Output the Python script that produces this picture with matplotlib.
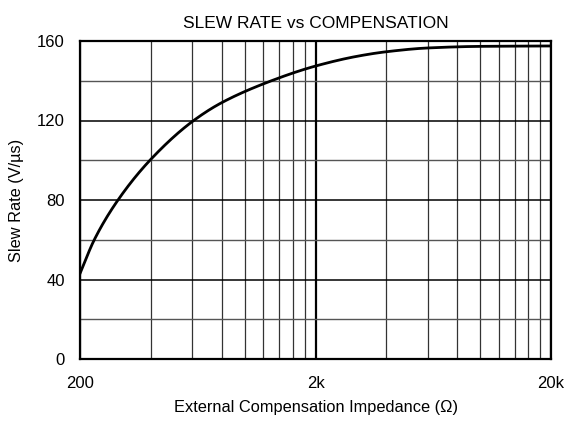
import matplotlib
matplotlib.use("Agg")
import matplotlib.pyplot as plt
from matplotlib.ticker import FixedLocator, NullFormatter
import numpy as np

plt.rcParams['font.family'] = ['Liberation Sans', 'DejaVu Sans']

# values
impedance = [200, 230, 290, 400, 600, 800, 1300, 2000, 3000, 4000, 6000,
             10000, 20000]
slew_rate = [43, 60, 80, 100.5, 119.5, 129, 140, 147.4, 152.3, 154.6, 156.5,
             157.3, 157.5]

x_ticks = [200, 2000, 20000]
x_labels = ['200', '2k', '20k']
y_ticks = [0, 40, 80, 120, 160]


def pchip(xk, yk, xq):
    # monotone cubic through the read points (Fritsch-Carlson), just for a smooth line
    xk = np.asarray(xk, float); yk = np.asarray(yk, float)
    h = np.diff(xk); d = np.diff(yk) / h
    m = np.zeros_like(yk)
    m[0], m[-1] = d[0], d[-1]
    for k in range(1, len(xk) - 1):
        if d[k - 1] * d[k] > 0:
            w1 = 2 * h[k] + h[k - 1]; w2 = h[k] + 2 * h[k - 1]
            m[k] = (w1 + w2) / (w1 / d[k - 1] + w2 / d[k])
    i = np.clip(np.searchsorted(xk, xq) - 1, 0, len(h) - 1)
    t = (xq - xk[i]) / h[i]
    h00 = 2 * t**3 - 3 * t**2 + 1; h10 = t**3 - 2 * t**2 + t
    h01 = -2 * t**3 + 3 * t**2; h11 = t**3 - t**2
    return h00 * yk[i] + h10 * h[i] * m[i] + h01 * yk[i + 1] + h11 * h[i] * m[i + 1]


lx = np.log10(impedance)
lq = np.linspace(lx[0], lx[-1], 500)
xs = 10 ** lq
ys = pchip(lx, slew_rate, lq)

fig = plt.figure(figsize=(5.65, 4.22), dpi=100)
ax = fig.add_axes([80 / 565, 63 / 422, 471 / 565, 318 / 422])

ax.plot(xs, ys, color='black', lw=2.0, zorder=3)

ax.set_xscale('log')
ax.set_xlim(200, 20000)
ax.set_ylim(0, 160)

minor_x = [m * d for d in (200, 2000) for m in range(2, 10)]
ax.xaxis.set_major_locator(FixedLocator(x_ticks))
ax.xaxis.set_minor_locator(FixedLocator(minor_x))
ax.xaxis.set_minor_formatter(NullFormatter())
ax.set_xticklabels(x_labels)
ax.set_yticks(y_ticks)
ax.yaxis.set_minor_locator(FixedLocator([20, 60, 100, 140]))

ax.grid(which='major', axis='y', color='black', lw=1.1)
ax.grid(which='minor', axis='y', color='#555555', lw=1.0)
ax.grid(which='major', axis='x', color='black', lw=1.6)
ax.grid(which='minor', axis='x', color='#333333', lw=0.9)

ax.tick_params(which='both', length=0)
ax.tick_params(axis='x', pad=12, labelsize=12)
ax.tick_params(axis='y', pad=11, labelsize=12)

for s in ax.spines.values():
    s.set_linewidth(1.6)
    s.set_zorder(4)

ax.set_title('SLEW RATE vs COMPENSATION', fontsize=12.5, pad=9)
ax.set_xlabel('External Compensation Impedance (\u03a9)', fontsize=11.8, labelpad=7)
ax.set_ylabel('Slew Rate (V/\u00b5s)', fontsize=11.8, labelpad=9)

fig.savefig('out.png', dpi=100)
